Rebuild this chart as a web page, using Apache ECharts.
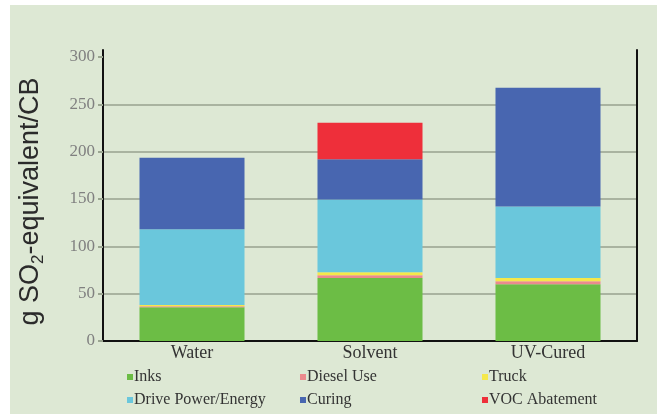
<!DOCTYPE html>
<html>
<head>
<meta charset="utf-8">
<script src="https://cdn.jsdelivr.net/npm/echarts@6/dist/echarts.min.js"></script>
<style>
  html, body { margin: 0; padding: 0; background: #ffffff; }
  #wrap { position: relative; width: 664px; height: 414px; }
  #panel { position: absolute; left: 10px; top: 5px; width: 647px; height: 409px; background: #dde8d4; }
  #chart { position: absolute; left: 0; top: 0; width: 664px; height: 414px; }
</style>
</head>
<body>
<div id="wrap">
  <div id="panel"></div>
  <div id="chart"></div>
</div>
<script>
// Acidification per printing process, stacked by source
const categories = ['Water', 'Solvent', 'UV-Cured'];
const inks      = [35.6, 66.5, 60];
const dieselUse = [1, 3, 3];
const truck     = [1.5, 3, 3.5];
const drivePower = [80, 77, 75.5];
const curing    = [75.5, 42.5, 125.6];
const vocAbatement = [0, 38.5, 0];
const yTicks = [0, 50, 100, 150, 200, 250, 300];

const seriesDefs = [
  { name: 'Inks', data: inks, color: '#6cbd45' },
  { name: 'Diesel Use', data: dieselUse, color: '#ec8a8e' },
  { name: 'Truck', data: truck, color: '#f5e84a' },
  { name: 'Drive Power/Energy', data: drivePower, color: '#6ac7dc' },
  { name: 'Curing', data: curing, color: '#4866b0' },
  { name: 'VOC Abatement', data: vocAbatement, color: '#ee2f3a' }
];

const serif = "'Liberation Serif', 'DejaVu Serif', serif";
const sans = "'Liberation Sans', Arial, sans-serif";
const chart = echarts.init(document.getElementById('chart'), null, { renderer: 'canvas' });

const legendBase = {
  orient: 'vertical',
  icon: 'rect',
  itemWidth: 6,
  itemHeight: 6,
  itemGap: 7,
  padding: 0,
  height: 44,
  selectedMode: false,
  textStyle: { fontFamily: serif, fontSize: 16, color: '#333333', lineHeight: 16, padding: [0, 0, 0, -4] }
};

chart.setOption({
  animation: false,
  backgroundColor: 'transparent',
  grid: { left: 103, right: 27, top: 50, bottom: 73, containLabel: false },
  legend: [
    Object.assign({}, legendBase, { left: 127, top: 369, data: ['Inks', 'Drive Power/Energy'] }),
    Object.assign({}, legendBase, { left: 300, top: 369, data: ['Diesel Use', 'Curing'] }),
    Object.assign({}, legendBase, { left: 482, top: 369, data: ['Truck', 'VOC Abatement'] })
  ],
  xAxis: {
    type: 'category',
    data: categories,
    axisLine: { show: true, lineStyle: { color: '#111111', width: 2 } },
    axisTick: { show: false },
    axisLabel: { fontFamily: serif, fontSize: 18, color: '#333333', margin: 3 }
  },
  yAxis: [
    {
      type: 'value',
      min: 0,
      max: 307.4,
      interval: 50,
      name: '{a|g SO}{sub|2}{a|-equivalent/CB}',
      nameLocation: 'middle',
      nameGap: 56,
      nameRotate: 90,
      nameTextStyle: {
        padding: [0, 12, 0, 0],
        rich: {
          a: { fontFamily: sans, fontSize: 27, color: '#2b2b2b', lineHeight: 32 },
          sub: { fontFamily: sans, fontSize: 17, color: '#2b2b2b', lineHeight: 32, verticalAlign: 'bottom', padding: [11, 0, 0, 0] }
        }
      },
      axisLine: { show: true, lineStyle: { color: '#111111', width: 2 } },
      axisTick: { show: true, length: 5, customValues: yTicks, lineStyle: { color: '#9aa590', width: 2 } },
      axisLabel: { customValues: yTicks, fontFamily: serif, fontSize: 17, color: '#808080', margin: 8 },
      splitLine: { show: true, showMaxLine: false, lineStyle: { color: '#a9b3a0', width: 2 } }
    },
    {
      type: 'value',
      position: 'right',
      min: 0,
      max: 307.4,
      interval: 50,
      axisLine: { show: true, lineStyle: { color: '#111111', width: 2 } },
      axisTick: { show: false },
      axisLabel: { show: false },
      splitLine: { show: false }
    }
  ],
  series: seriesDefs.map(s => ({
    name: s.name,
    type: 'bar',
    stack: 'total',
    data: s.data,
    barWidth: '59%',
    itemStyle: { color: s.color },
    emphasis: { disabled: true }
  }))
});
</script>
</body>
</html>
